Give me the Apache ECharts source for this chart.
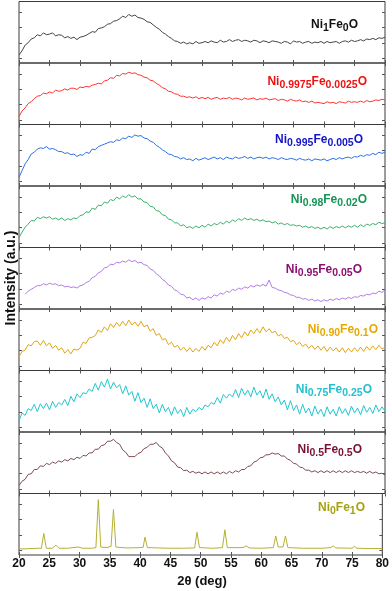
<!DOCTYPE html>
<html>
<head>
<meta charset="utf-8">
<title>XRD</title>
<script src="https://cdn.jsdelivr.net/npm/echarts@6/dist/echarts.min.js"></script>
<style>
  html, body { margin: 0; padding: 0; background: #fff; }
  #chart { width: 392px; height: 591px; }
</style>
</head>
<body>
<div id="chart"></div>
<script>
// 2theta sampling (deg), 20 -> 80 every 0.5
const twoTheta = [];
for (let t = 20; t <= 80.001; t += 0.5) twoTheta.push(+t.toFixed(1));

// intensities, % of each panel height
const ni1fe0 = [13,20,29,33,39,41,46,44,49,46, 47,49,44,46,45,41,43,40,42,38,
  42,43,45,48,51,50,56,57,59,63, 64,68,69,72,76,74,79,76,78,74,
  73,71,67,66,62,58,55,50,47,43, 40,36,35,32,34,31,33,31,35,32,
  33,35,33,36,34,33,37,34,35,38, 35,37,38,35,37,36,34,37,36,33,
  36,35,33,36,35,34,32,35,34,31, 36,34,35,32,34,35,32,34,33,35,
  32,35,33,34,35,32,35,36,34,37, 35,36,38,36,39,38,40,38,41,40, 42];
const ni9975 = [13,22,27,34,37,42,46,47,51,50, 53,51,56,54,55,58,56,59,59,57,
  61,60,62,61,64,65,67,66,71,72, 76,75,80,79,83,82,85,83,84,81,
  80,77,76,72,71,67,64,60,58,54, 53,50,49,46,46,44,45,43,45,42,
  44,42,44,41,43,44,41,43,42,44, 41,43,42,40,43,41,42,43,40,42,
  41,43,40,41,42,39,41,40,38,41, 39,38,40,37,38,36,38,35,36,35,
  34,37,35,36,34,37,36,35,38,36, 37,36,38,36,39,37,38,40,39,41, 40];
const ni995 = [14,25,36,43,52,55,60,62,61,64, 60,61,59,56,56,53,54,51,52,48,
  51,50,55,53,60,59,64,66,68,70, 72,71,75,74,78,77,81,79,83,81,
  82,78,77,73,71,66,63,59,56,52, 51,48,47,44,46,43,44,41,45,42,
  44,46,43,45,47,44,46,43,47,45, 44,47,45,46,48,45,47,44,46,47,
  45,47,44,46,45,43,46,44,43,45, 44,42,45,43,42,44,41,44,43,42,
  44,41,43,45,43,46,44,46,47,45, 48,47,50,48,51,50,53,51,55,53, 55];
const ni98 = [16,25,33,38,44,43,49,47,50,48, 50,46,48,45,48,44,47,45,48,47,
  52,53,58,57,64,62,69,68,74,72, 78,76,82,79,84,81,86,82,84,79,
  79,74,73,67,66,60,59,53,52,46, 45,40,40,35,37,32,34,31,35,32,
  36,33,38,35,39,37,41,38,43,40, 45,42,47,44,48,45,47,44,46,43,
  45,42,43,40,42,38,40,37,39,36, 37,35,36,33,35,32,34,31,33,30,
  33,30,34,31,34,32,35,32,35,33, 36,33,37,34,38,36,39,37,41,39, 40];
const ni95 = [null,null,24,29,32,35,38,38,41,39, 42,40,41,38,39,36,37,35,36,34,
  38,39,43,45,51,53,59,61,67,68, 73,72,76,75,78,76,80,77,79,75,
  76,72,71,65,63,57,54,48,45,39, 37,31,29,24,23,18,19,15,18,14,
  18,16,20,18,23,21,26,24,29,27, 32,30,34,32,36,34,38,36,39,37,
  40,37,47,35,34,31,30,27,26,23, 22,19,19,16,17,14,16,13,15,12,
  15,13,16,14,17,15,18,16,19,17, 20,19,22,21,24,23,26,25,29,27, 31];
const ni90 = [22,31,33,42,40,47,48,41,49,40, 45,36,41,33,37,28,34,27,35,33,
  36,46,44,53,54,57,66,62,71,65, 76,70,78,72,80,73,82,74,79,72,
  80,71,74,64,68,57,60,50,52,42, 46,38,41,33,38,31,37,30,36,31,
  39,33,41,37,46,40,50,44,54,47, 57,50,60,53,63,56,66,60,68,61,
  71,63,68,61,64,56,59,52,54,47, 49,42,46,39,43,36,41,34,40,33,
  39,31,38,32,37,30,37,29,36,30, 37,31,38,31,39,33,40,34,41,35, 38];
const ni75 = [18,31,27,38,35,45,33,46,38,47, 36,50,40,48,44,53,43,58,49,62,
  56,64,62,70,66,79,68,82,73,86, 70,81,72,77,62,75,60,66,50,64,
  48,55,40,54,38,45,31,45,33,40, 27,41,30,37,25,40,29,37,33,40,
  36,44,41,48,45,56,47,61,55,62, 57,69,56,71,60,68,57,73,60,67,
  55,70,53,62,49,57,44,52,36,51, 35,44,29,45,31,39,26,42,29,37,
  25,41,29,37,26,41,30,38,27,42, 31,39,28,43,32,40,30,44,33,41, 34];
const ni50 = [13,20,23,31,32,39,39,45,44,49, 47,51,49,53,51,55,53,57,55,59,
  57,62,61,66,66,72,72,78,79,85, 85,88,83,80,71,67,60,60,60,65,
  67,73,75,80,80,83,77,74,66,61, 53,50,43,42,37,38,34,36,33,35,
  32,35,32,35,32,35,32,35,32,36, 33,37,35,39,39,44,45,51,53,58,
  59,63,63,66,64,65,61,61,56,54, 49,48,43,42,38,38,35,37,34,37,
  34,37,34,37,34,37,34,37,34,37, 34,36,34,36,33,36,33,35,32,33, 30];
// Ni0Fe1O is sharp-peaked, so kept as [2theta, intensity] pairs
const ni0fe1 = [[20,10],[21,10],[22,10.5],[23,11],[23.7,11],[24.1,35],[24.5,11],[25.5,11],
  [26.1,16],[26.6,11],[28,11],[29.8,13],[30.5,11],[32,11],[32.7,12],[33.1,90],[33.5,13],
  [34.5,12],[35.2,14],[35.6,74],[36,13],[37,12],[38,11.5],[40,12],[40.5,12.5],[40.8,29],
  [41.2,12],[43,11.5],[45,11],[47,11],[49,11.5],[49.4,37],[49.8,12],[52,11],[53.6,12],
  [54,41],[54.4,12],[57,12],[57.5,15],[58,11.5],[60,11],[62,12],[62.4,31],[62.8,13],
  [63.6,13],[64,31],[64.4,12],[67,11],[70,11],[71.5,12],[71.9,15],[72.3,11.5],[75,11],
  [75.4,14],[75.8,11],[78,10.5],[80,10.5]];

const lineColors = ['#444444', '#ff3333', '#2a6fe6', '#3cb06a', '#b27ae8', '#e0a515', '#22c6d0', '#7e4a50', '#b5b032'];
const labelColors = ['#111111', '#ee1111', '#1414c8', '#169455', '#8e0f72', '#e8a800', '#22c0d0', '#7a1030', '#a8a010'];
// [text, subscript] pieces of each label
const labelParts = [
  [['Ni', '1'], ['Fe', '0'], ['O', '']],
  [['Ni', '0.9975'], ['Fe', '0.0025'], ['O', '']],
  [['Ni', '0.995'], ['Fe', '0.005'], ['O', '']],
  [['Ni', '0.98'], ['Fe', '0.02'], ['O', '']],
  [['Ni', '0.95'], ['Fe', '0.05'], ['O', '']],
  [['Ni', '0.90'], ['Fe', '0.1'], ['O', '']],
  [['Ni', '0.75'], ['Fe', '0.25'], ['O', '']],
  [['Ni', '0.5'], ['Fe', '0.5'], ['O', '']],
  [['Ni', '0'], ['Fe', '1'], ['O', '']]
];
const labelRight = [358, 367, 363, 367, 362, 378, 372, 362, 365];
const labelY = [19, 76, 134, 194, 264, 324, 384, 444, 502];

const FONT = '"Liberation Sans", Arial, sans-serif';
const panelTop = 1.5;
const panelH = 61.5;

const chart = echarts.init(document.getElementById('chart'));

const allData = [ni1fe0, ni9975, ni995, ni98, ni95, ni90, ni75, ni50];

let grids = [], xAxes = [], yAxes = [], series = [], graphic = [];

for (let i = 0; i < 9; i++) {
  grids.push({
    left: 19, right: 7, top: panelTop + i * panelH, height: panelH,
    show: true, borderColor: '#3a3a3a', borderWidth: 1, backgroundColor: 'transparent'
  });
  ['bottom', 'top'].forEach(function (pos) {
    xAxes.push({
      type: 'value', gridIndex: i, position: pos, min: 20, max: 80, interval: 5,
      axisLine: { show: false },
      axisTick: { inside: true, length: 3, lineStyle: { color: '#555' } },
      axisLabel: {
        show: i === 8 && pos === 'bottom', margin: 3, fontSize: 12, fontWeight: 'bold',
        color: '#111', fontFamily: FONT
      },
      splitLine: { show: false }
    });
  });
  ['left', 'right'].forEach(function (pos) {
    yAxes.push({
      type: 'value', gridIndex: i, position: pos, min: 0, max: 100, interval: 25,
      axisLine: { show: false },
      axisTick: { inside: true, length: 3, lineStyle: { color: '#555' }, customValues: [7.5, 32.5, 57.5, 82.5] },
      axisLabel: { show: false },
      splitLine: { show: false }
    });
  });

  let data;
  if (i < 8) {
    data = twoTheta.map(function (t, k) { return [t, allData[i][k]]; });
  } else {
    data = ni0fe1;
  }
  series.push({
    type: 'line', xAxisIndex: 2 * i, yAxisIndex: 2 * i, data: data,
    showSymbol: false, silent: true, connectNulls: false,
    lineStyle: { color: lineColors[i], width: 1 }
  });

  // sample label with subscripts
  let txt = '';
  labelParts[i].forEach(function (p) {
    txt += '{m|' + p[0] + '}';
    if (p[1]) txt += '{s|' + p[1] + '}';
  });
  graphic.push({
    type: 'text', x: labelRight[i], y: labelY[i], silent: true,
    style: {
      text: txt, align: 'right', verticalAlign: 'top',
      fill: labelColors[i], fontFamily: FONT,
      rich: {
        m: { fontSize: 12, fontWeight: 'bold', fontFamily: FONT, fill: labelColors[i], lineHeight: 13, verticalAlign: 'top' },
        s: { fontSize: 10.5, fontWeight: 'bold', fontFamily: FONT, fill: labelColors[i], lineHeight: 13, verticalAlign: 'top', padding: [4, 0, 0, 0] }
      }
    }
  });
}

graphic.push({
  type: 'text', x: 11, y: 278, rotation: Math.PI / 2, silent: true,
  style: { text: 'Intensity (a.u.)', align: 'center', verticalAlign: 'middle', fill: '#111', font: 'bold 14px ' + FONT }
});
graphic.push({
  type: 'text', x: 202, y: 581.5, silent: true,
  style: { text: '2θ (deg)', align: 'center', verticalAlign: 'middle', fill: '#111', font: 'bold 13px ' + FONT }
});

chart.setOption({
  animation: false,
  grid: grids,
  xAxis: xAxes,
  yAxis: yAxes,
  series: series,
  graphic: graphic
});
</script>
</body>
</html>
